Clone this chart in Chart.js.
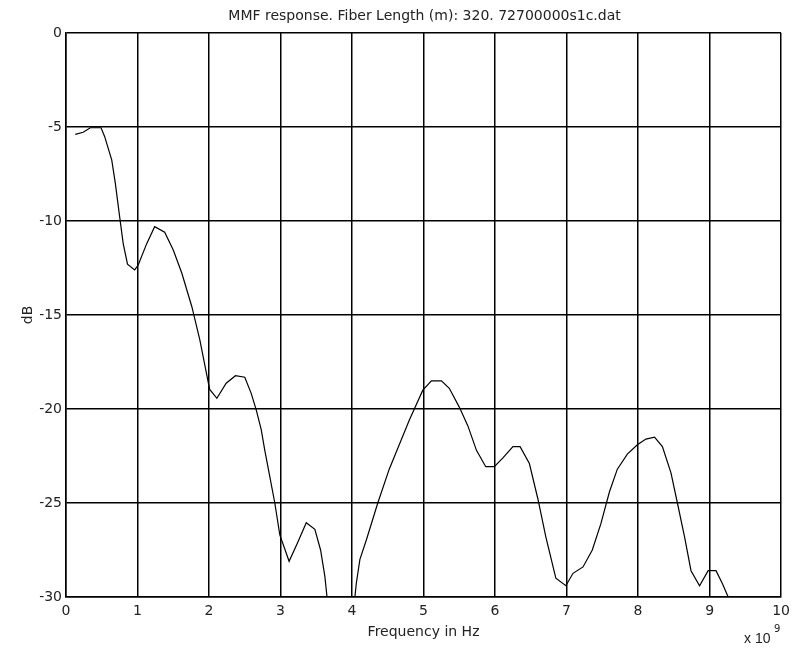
<!DOCTYPE html>
<html>
<head>
<meta charset="utf-8">
<script src="https://cdn.jsdelivr.net/npm/chart.js@4.4.1/dist/chart.umd.min.js"></script>
<style>
  html, body { margin: 0; padding: 0; background: #fff; }
  #wrap { width: 796px; height: 649px; }
</style>
</head>
<body>
<div id="wrap"><canvas id="chart" width="796" height="649"></canvas></div>
<script>
// frequency in GHz (axis is x 10^9 Hz) and response in dB
const freqGHz = [0.13, 0.24, 0.34, 0.49, 0.54, 0.64, 0.69, 0.75, 0.80, 0.86, 0.96, 1.01, 1.13, 1.24, 1.38, 1.50, 1.62, 1.76, 1.87, 1.99, 2.01, 2.11, 2.24, 2.37, 2.50, 2.59, 2.66, 2.73, 2.78, 2.85, 2.92, 2.99, 3.12, 3.24, 3.36, 3.48, 3.56, 3.62, 3.65, 3.75, 3.85, 3.95, 4.04, 4.06, 4.11, 4.20, 4.36, 4.52, 4.66, 4.80, 4.99, 5.11, 5.25, 5.36, 5.50, 5.62, 5.74, 5.87, 5.99, 6.11, 6.25, 6.35, 6.48, 6.60, 6.71, 6.85, 6.99, 7.09, 7.23, 7.36, 7.48, 7.60, 7.71, 7.85, 7.99, 8.11, 8.23, 8.34, 8.46, 8.55, 8.65, 8.74, 8.86, 8.98, 9.09, 9.18, 9.26, 9.35];
const responseDb = [-5.39, -5.28, -5.04, -5.04, -5.5, -6.76, -8.0, -9.77, -11.2, -12.3, -12.6, -12.34, -11.19, -10.3, -10.6, -11.54, -12.78, -14.56, -16.3, -18.6, -18.96, -19.43, -18.63, -18.23, -18.31, -19.17, -20.05, -21.1, -22.2, -23.6, -25.0, -26.7, -28.1, -27.1, -26.05, -26.4, -27.5, -28.9, -30.0, -32.5, -34.0, -32.5, -30.0, -29.27, -28.0, -26.97, -25.0, -23.2, -21.9, -20.6, -19.0, -18.5, -18.5, -18.9, -19.9, -20.9, -22.2, -23.07, -23.07, -22.6, -22.0, -22.0, -22.9, -24.8, -26.8, -29.0, -29.4, -28.74, -28.4, -27.5, -26.1, -24.4, -23.2, -22.4, -21.9, -21.6, -21.5, -22.0, -23.4, -25.0, -26.8, -28.6, -29.4, -28.6, -28.6, -29.3, -30.0, -31.5];

const xTicks = [0, 1, 2, 3, 4, 5, 6, 7, 8, 9, 10];
const yTicks = [0, -5, -10, -15, -20, -25, -30];

const titleText = 'MMF response. Fiber Length (m): 320. 72700000s1c.dat';
const xTitle = 'Frequency in Hz';
const yTitle = 'dB';

const font = 'DejaVu Sans, Verdana, sans-serif';

// titles and the x 10^9 exponent, drawn around the plot area
const labelsPlugin = {
    id: 'labels',
    afterDraw(chart) {
        const ctx = chart.ctx;
        const area = chart.chartArea;
        const cx = (area.left + area.right) / 2;
        ctx.save();
        ctx.fillStyle = '#222';
        ctx.font = '14px ' + font;
        ctx.textAlign = 'center';
        ctx.textBaseline = 'middle';
        ctx.fillText(titleText, cx + 1, 16);
        ctx.fillText(xTitle, cx, 632);

        ctx.save();
        ctx.translate(28, (area.top + area.bottom) / 2);
        ctx.rotate(-Math.PI / 2);
        ctx.fillText(yTitle, 0, 0);
        ctx.restore();

        ctx.textAlign = 'left';
        ctx.font = '14px Liberation Sans, Arial, sans-serif';
        ctx.fillText('x 10', 744, 639);
        ctx.font = '10px ' + font;
        ctx.fillText('9', 774, 629);
        ctx.restore();
    }
};

new Chart(document.getElementById('chart'), {
    type: 'line',
    data: {
        datasets: [{
            data: freqGHz.map((f, i) => ({ x: f, y: responseDb[i] })),
            borderColor: '#000',
            borderWidth: 1.2,
            pointRadius: 0,
            tension: 0,
            fill: false
        }]
    },
    options: {
        responsive: false,
        animation: false,
        layout: { padding: { top: 33, right: 14, left: 0, bottom: 0 } },
        plugins: {
            legend: { display: false },
            tooltip: { enabled: false }
        },
        scales: {
            x: {
                type: 'linear',
                min: 0,
                max: 10,
                afterFit: scale => { scale.height = 52; },
                afterBuildTicks: scale => { scale.ticks = xTicks.map(v => ({ value: v })); },
                grid: { color: '#000', lineWidth: 1.5, drawTicks: false },
                border: { color: '#000', width: 1.5 },
                ticks: { color: '#222', font: { size: 14, family: font }, padding: 6, maxRotation: 0 }
            },
            y: {
                min: -30,
                max: 0,
                afterFit: scale => { scale.width = 66; },
                afterBuildTicks: scale => { scale.ticks = yTicks.map(v => ({ value: v })); },
                grid: { color: '#000', lineWidth: 1.5, drawTicks: false },
                border: { color: '#000', width: 1.5 },
                ticks: { color: '#222', font: { size: 14, family: font }, padding: 4 }
            }
        }
    },
    plugins: [labelsPlugin]
});
</script>
</body>
</html>
